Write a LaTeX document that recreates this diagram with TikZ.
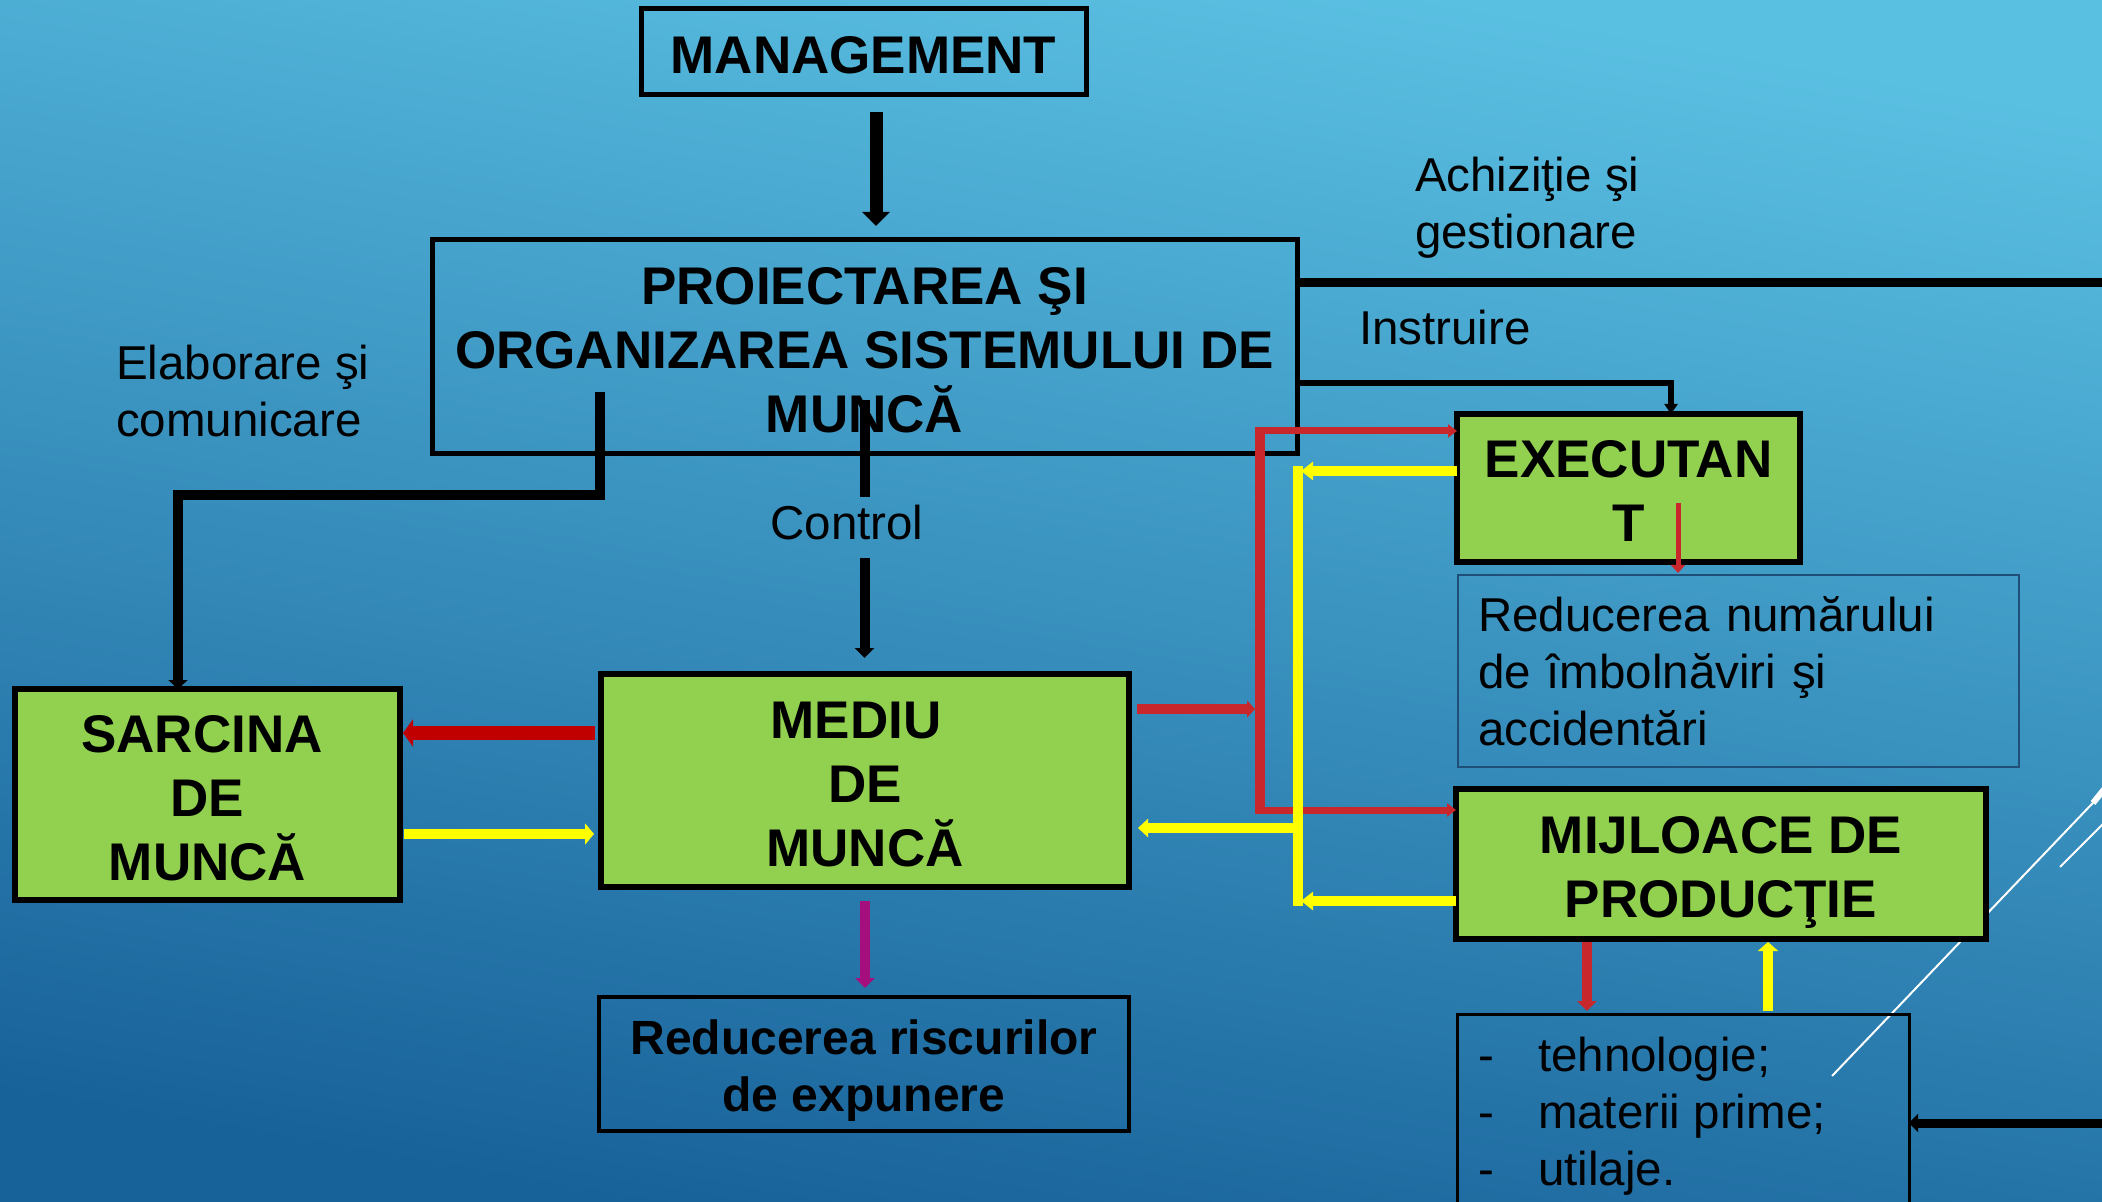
\documentclass[tikz,border=0pt]{standalone}
\usepackage{fontspec}
\setmainfont{Liberation Sans}
\usetikzlibrary{arrows.meta}
\definecolor{bgTop}{HTML}{5AC0E2}
\definecolor{bgBot}{HTML}{18629A}
\definecolor{boxgreen}{HTML}{92D050}
\definecolor{lred}{HTML}{C8282C}
\definecolor{dred}{HTML}{C00000}
\definecolor{ylw}{HTML}{FFFF00}
\definecolor{mag}{HTML}{A50F7D}
\definecolor{thinblue}{HTML}{1F4E79}
\newcommand{\firstup}{\rule{0pt}{22pt}}
\begin{document}
\begin{tikzpicture}[x=0.5pt,y=-0.5pt,
  box/.style={draw=black, line width=2.5pt, inner sep=0pt, outer sep=0pt, align=center, font=\bfseries\fontsize{26.5}{32}\selectfont},
  gbox/.style={box, fill=boxgreen, line width=3pt},
  lbl/.style={inner sep=0pt, outer sep=0pt, align=left, font=\fontsize{23.75}{28.5}\selectfont},
  arr/.style 2 args={-{Triangle[width=#1,length=#2]}}
]
\useasboundingbox (0,0) rectangle (2102,1202);
\begin{scope}
\clip (0,0) rectangle (2102,1202);
\shade[top color=bgTop, bottom color=bgBot, shading angle=-10] (0,0) rectangle (2102,1202);
% decorative white lines
\draw[white, line width=1pt] (1832,1076) -- (2110,785);
\draw[white, line width=1pt] (2060,867) -- (2110,817);
\draw[white, line width=3pt] (2093,803) -- (2110,782);

% boxes
\node[box, minimum width=222.5pt, minimum height=43pt] (mgmt) at (863.5,52) {\firstup MANAGEMENT};
\node[box, minimum width=432.5pt, minimum height=107pt] (proj) at (864.5,347) {\firstup PROIECTAREA ŞI\\ORGANIZAREA SISTEMULUI DE\\MUNCĂ};
\node[gbox, minimum width=171.5pt, minimum height=74pt] (exec) at (1628.5,488) {\firstup EXECUTAN\\T};
\node[lbl, draw=thinblue, line width=1pt, text width=260.5pt, inner xsep=10pt, minimum height=96pt] (rednum) at (1738.5,671) {Reducerea numărului\\de îmbolnăviri şi\\accidentări};
\node[gbox, minimum width=265pt, minimum height=75pt] (mij) at (1721,864) {\firstup MIJLOACE DE\\PRODUC\smash{Ţ}IE};
\node[box, line width=1.5pt, minimum width=226pt, minimum height=123pt] (teh) at (1683,1137) {};
\node[lbl, anchor=west] (tehtxt) at (1478,1116.5) {\makebox[30pt][l]{-}tehnologie;\\\makebox[30pt][l]{-}materii prime;\\\makebox[30pt][l]{-}utilaje.};
\node[gbox, minimum width=192.5pt, minimum height=105.5pt] (sarc) at (207.5,794.5) {\firstup SARCINA\hspace*{5.5pt}\\DE\hspace*{5.5pt}\\MUNCĂ};
\node[gbox, minimum width=264pt, minimum height=106.5pt] (med) at (865,780.5) {\firstup MEDIU\hspace*{9pt}\\DE\hspace*{9pt}\\MUNCĂ};
\node[box, line width=2pt, minimum width=265pt, minimum height=67pt, font=\bfseries\fontsize{24}{28.5}\selectfont] (redrisc) at (864,1064) {\rule{0pt}{19pt}Reducerea riscurilor\\\smash{de expunere}};

% labels
\node[lbl, anchor=west] (achiz) at (1415,208) {Achiziţie şi\\gestionare};
\node[lbl, anchor=base west] (instr) at (1359,345) {Instruire};
\node[lbl, anchor=west] (elab) at (116,391.5) {Elaborare şi\\comunicare};
\node[lbl, anchor=base] (ctrl) at (847,540) {Control};

% black connectors
\coordinate (M0) at ([xshift=6.25pt]mgmt.south);
\draw[line width=6.5pt, arr={13.5pt}{7pt}, shorten <=8.5pt, shorten >=7pt] (M0) -- (M0 |- proj.north);

\coordinate (yA) at (0,283);
\coordinate (outR) at (2130,283);
\draw[line width=4.5pt] (proj.east |- yA) -- (outR);
\coordinate (inR) at (2130,1123);
\draw[line width=4.5pt, arr={9pt}{4.5pt}] (inR) -- (teh.east |- inR);

\coordinate (yI) at (0,383);
\draw[line width=3pt, arr={6.5pt}{5pt}] (proj.east |- yI) -| ([xshift=21.25pt]exec.north);

\coordinate (P) at ([xshift=-132.25pt,yshift=31pt]proj.south);
\coordinate (yE) at (0,495);
\coordinate (S1) at ([xshift=-14.75pt]sarc.north);
\draw[line width=5pt, arr={9.5pt}{4.5pt}] (P) -- (P |- yE) -| (S1);

\coordinate (C0) at ([yshift=27pt]proj.south);
\draw[line width=5pt, shorten >=4.5pt] (C0) -- (C0 |- ctrl.north);
\draw[line width=5pt, arr={9.5pt}{5pt}, shorten <=9pt, shorten >=8pt] (C0 |- ctrl.south) -- (C0 |- med.north);

% magenta
\draw[mag, line width=5pt, arr={9.5pt}{5pt}, shorten <=7pt, shorten >=4.5pt] (med.south) -- (med.south |- redrisc.north);

% between sarcina and mediu
\coordinate (yR) at (0,733);
\draw[dred, line width=7pt, arr={13.5pt}{5pt}, shorten <=3pt, shorten >=1.5pt] (med.west |- yR) -- (sarc.east |- yR);
\coordinate (yY) at (0,834);
\draw[ylw, line width=5pt, arr={10.5pt}{4.5pt}, shorten <=2pt, shorten >=3.5pt] (sarc.east |- yY) -- (med.west |- yY);

% red network
\coordinate (rvT) at (1260,427.5);
\coordinate (rvB) at (1260,813.5);
\draw[lred, line width=5pt] (rvT) -- (rvB);
\coordinate (rhT) at (1255,431);
\coordinate (rhB) at (1255,810);
\draw[lred, line width=3.5pt, arr={6.5pt}{4.5pt}] (rhT) -- (exec.west |- rhT);
\draw[lred, line width=3.5pt, arr={6.5pt}{4.5pt}] (rhB) -- (mij.west |- rhB);
\coordinate (yM) at (0,709);
\draw[lred, line width=5pt, arr={8.5pt}{4pt}, shorten <=4pt] (med.east |- yM) -- (rhT |- yM);

% yellow network
\coordinate (yvT) at (1298,466);
\coordinate (yvB) at (1298,906);
\draw[ylw, line width=5pt] (yvT) -- (yvB);
\coordinate (yvx) at (1301,0);
\coordinate (yEx) at (0,471);
\coordinate (yMx) at (0,901);
\draw[ylw, line width=5pt, arr={9pt}{6pt}] (exec.west |- yEx) -- (yvx |- yEx);
\draw[ylw, line width=5pt, arr={9pt}{6pt}] (mij.west |- yMx) -- (yvx |- yMx);
\coordinate (yvL) at (1293,828);
\draw[ylw, line width=5pt, arr={9pt}{5pt}, shorten >=4.5pt] (yvL) -- (med.east |- yvL);

% executant -> reducerea numarului
\coordinate (RE) at ([xshift=24.75pt,yshift=29.5pt]exec.south);
\draw[lred, line width=2.5pt, arr={7pt}{4pt}, shorten >=1pt] (RE) -- (RE |- rednum.north);

% mijloace <-> tehnologie
\coordinate (xr) at (1587,0);
\coordinate (xy) at (1768,0);
\draw[lred, line width=5pt, arr={9.5pt}{5pt}, shorten <=1.5pt, shorten >=1.5pt] (xr |- mij.south) -- (xr |- teh.north);
\draw[ylw, line width=5pt, arr={10pt}{4.5pt}, shorten <=1.5pt, shorten >=1.5pt] (xy |- teh.north) -- (xy |- mij.south);
\end{scope}
\end{tikzpicture}
\end{document}
